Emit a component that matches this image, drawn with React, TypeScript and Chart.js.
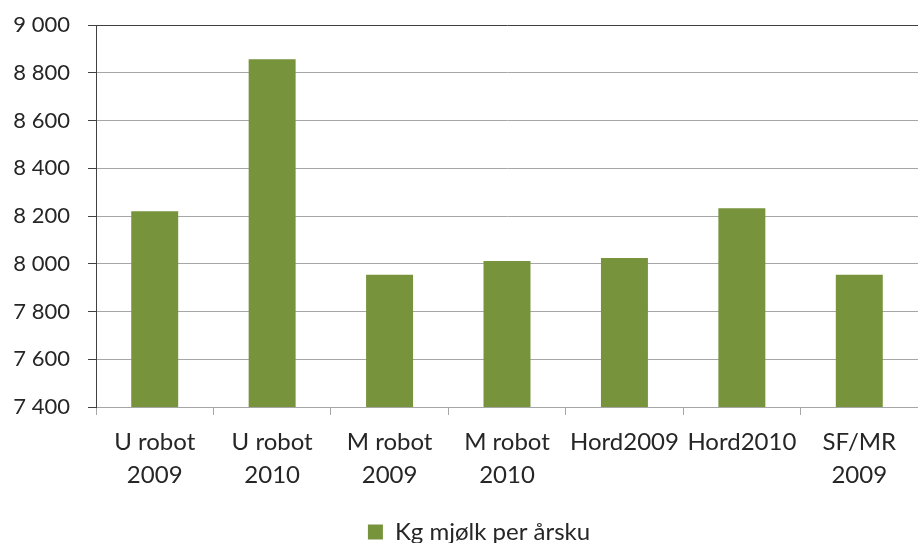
import React, { useEffect, useRef } from "react";
import { Chart, registerables } from "chart.js";

Chart.register(...registerables);

const categories: string[][] = [
  ["U robot", "2009"],
  ["U robot", "2010"],
  ["M robot", "2009"],
  ["M robot", "2010"],
  ["Hord2009"],
  ["Hord2010"],
  ["SF/MR", "2009"],
];
const seriesName = "Kg mjølk per årsku";
const values: number[] = [8220, 8857, 7954, 8012, 8024, 8232, 7954];
const yMin = 7400;
const yMax = 9000;
const yStep = 200;

const FONT = "Lato, 'Liberation Sans', sans-serif";
const TEXT = "#262626";
const GREEN = "#77933C";

function fmt(v: number): string {
  const s = String(Math.round(v));
  return s.replace(/\B(?=(\d{3})+(?!\d))/g, " ");
}

const legendShift = {
  id: "legendShift",
  afterLayout(chart: any) {
    const l = chart.legend;
    if (!l) return;
    l.left += 20;
    l.right += 20;
    l.top += 7;
    l.bottom += 7;
  },
};

export default function App() {
  const ref = useRef<HTMLCanvasElement | null>(null);
  useEffect(() => {
    document.body.style.margin = "0";
    const ctx = ref.current;
    if (!ctx) return;
    const chart = new Chart(ctx, {
      type: "bar",
      data: {
        labels: categories,
        datasets: [
          {
            label: seriesName,
            data: values,
            backgroundColor: GREEN,
            borderWidth: 0,
            barPercentage: 0.4,
            categoryPercentage: 1,
          },
        ],
      },
      plugins: [legendShift],
      options: {
        animation: false,
        responsive: false,
        maintainAspectRatio: false,
        layout: { padding: { top: 25, right: 0, left: 0, bottom: -4 } },
        plugins: {
          tooltip: { enabled: false },
          legend: {
            position: "bottom",
            labels: {
              color: TEXT,
              font: { family: FONT, size: 24 },
              boxWidth: 15,
              boxHeight: 15,
              padding: 6,
            },
          },
        },
        scales: {
          x: {
            offset: true,
            grid: {
              offset: true,
              drawOnChartArea: false,
              drawTicks: true,
              tickLength: 8,
              tickColor: "#a6a6a6",
            },
            border: { color: "#a6a6a6", width: 1 },
            ticks: {
              color: TEXT,
              font: { family: FONT, size: 24, lineHeight: 1.36 },
              padding: 11,
              maxRotation: 0,
              autoSkip: false,
            },
            afterFit: (scale: any) => {
              scale.height = 100;
            },
          },
          y: {
            min: yMin,
            max: yMax,
            grid: {
              color: (c: any) => (c.tick && c.tick.value === yMax ? "#404040" : "#a6a6a6"),
              lineWidth: 1,
              tickLength: 8,
              tickColor: "#404040",
            },
            border: { color: "#404040", width: 1 },
            ticks: {
              stepSize: yStep,
              color: TEXT,
              font: { family: FONT, size: 22 },
              padding: 18,
              callback: (v: any) => fmt(Number(v)),
            },
            afterFit: (scale: any) => {
              scale.width = 96;
              scale.paddingTop = 0;
              scale.paddingBottom = 0;
            },
          },
        },
      },
    });
    return () => chart.destroy();
  }, []);
  return (
    <div style={{ position: "absolute", left: 0, top: 0, width: 918, height: 543 }}>
      <canvas ref={ref} width={918} height={543} style={{ width: 918, height: 543 }} />
    </div>
  );
}
